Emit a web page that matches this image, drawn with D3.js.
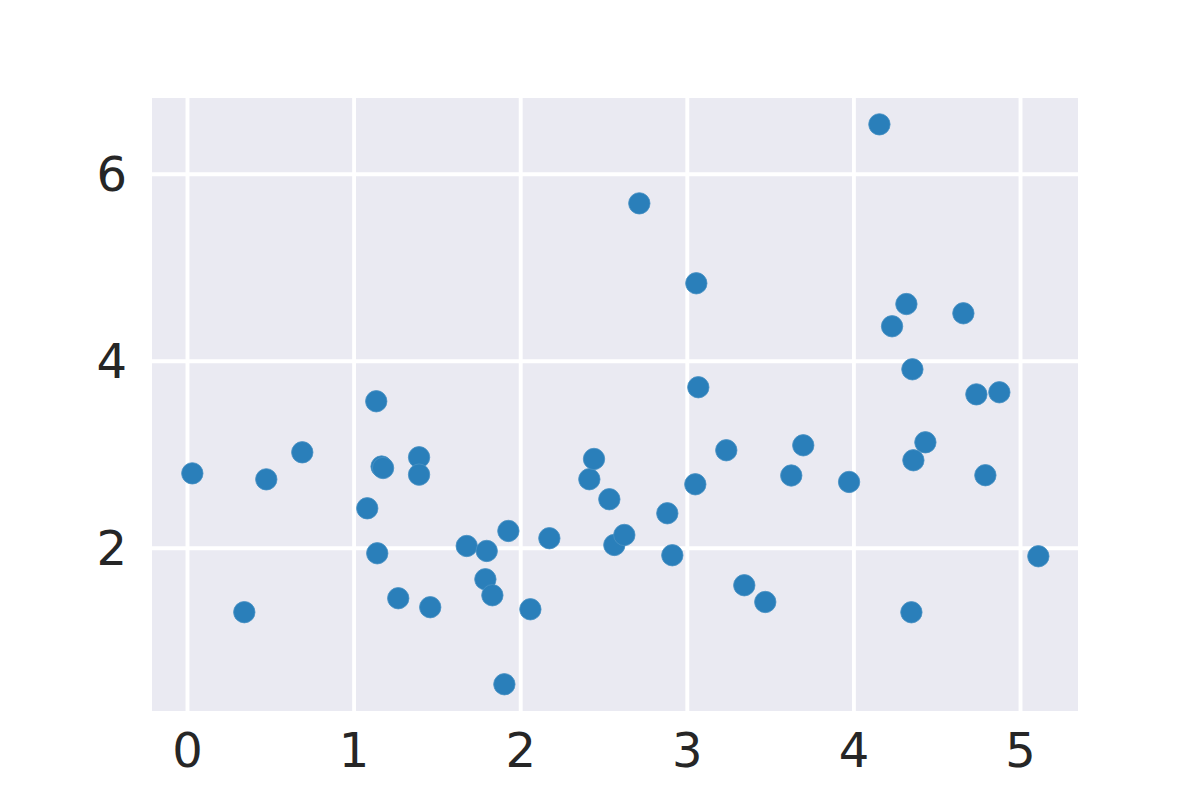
<!DOCTYPE html>
<html>
<head>
<meta charset="utf-8">
<script src="https://cdn.jsdelivr.net/npm/d3@7"></script>
<style>
  html, body { margin: 0; padding: 0; background: #ffffff; }
  svg { display: block; }
</style>
</head>
<body>
<svg id="chart" width="1200" height="800"></svg>
<script>
const xValues = [0.032, 0.344, 0.476, 0.692, 1.082, 1.136, 1.168, 1.177, 1.142, 1.268, 1.393, 1.393, 1.460,
  1.679, 1.799, 1.791, 1.833, 1.929, 1.905, 2.061, 2.175, 2.415, 2.443, 2.535, 2.565, 2.625, 2.715,
  2.883, 2.913, 3.051, 3.057, 3.069, 3.237, 3.345, 3.471, 3.627, 3.699, 3.974, 4.156, 4.232, 4.318,
  4.354, 4.360, 4.348, 4.432, 4.660, 4.738, 4.792, 4.876, 5.110];
const yValues = [2.795, 1.310, 2.731, 3.020, 2.421, 3.566, 2.868, 2.852, 1.940, 1.459, 2.967, 2.781, 1.363,
  2.018, 1.965, 1.662, 1.491, 2.179, 0.539, 1.341, 2.101, 2.732, 2.949, 2.518, 2.029, 2.136, 5.683,
  2.368, 1.919, 2.678, 4.828, 3.716, 3.042, 1.598, 1.419, 2.772, 3.095, 2.703, 6.528, 4.368, 4.606,
  3.908, 2.935, 1.309, 3.127, 4.507, 3.640, 2.775, 3.662, 1.908];
const xTicks = [0, 1, 2, 3, 4, 5];
const yTicks = [2, 4, 6];

const svg = d3.select("#chart");
const plotLeft = 152, plotRight = 1078, plotTop = 98, plotBottom = 711;

const x = d3.scaleLinear().domain([-0.21, 5.348]).range([plotLeft, plotRight]);
const y = d3.scaleLinear().domain([0.253, 6.81]).range([plotBottom, plotTop]);

svg.append("rect")
  .attr("x", plotLeft).attr("y", plotTop)
  .attr("width", plotRight - plotLeft).attr("height", plotBottom - plotTop)
  .attr("fill", "#eaeaf2");

const fontFamily = "DejaVu Sans, sans-serif";

const gx = svg.append("g")
  .attr("transform", `translate(0,${plotBottom})`)
  .call(d3.axisBottom(x).tickValues(xTicks).tickSize(-(plotBottom - plotTop)).tickPadding(22).tickFormat(d3.format("d")));
const gy = svg.append("g")
  .attr("transform", `translate(${plotLeft},0)`)
  .call(d3.axisLeft(y).tickValues(yTicks).tickSize(-(plotRight - plotLeft)).tickPadding(25).tickFormat(d3.format("d")));

[gx, gy].forEach(g => {
  g.select(".domain").remove();
  g.selectAll(".tick line").attr("stroke", "#ffffff").attr("stroke-width", 3.9);
  g.selectAll(".tick text")
    .attr("fill", "#262626")
    .style("font-family", fontFamily)
    .style("font-size", "48px");
});
gx.selectAll(".tick text").attr("dy", "0.71em");
gy.selectAll(".tick text").attr("dy", "0.34em");

const pts = xValues.map((v, i) => ({ x: v, y: yValues[i] }));
svg.append("g")
  .selectAll("circle")
  .data(pts)
  .join("circle")
  .attr("cx", d => x(d.x))
  .attr("cy", d => y(d.y))
  .attr("r", 10.7)
  .attr("fill", "#2a7fba")
  .attr("stroke", "#4a92c4")
  .attr("stroke-width", 0.8);
</script>
</body>
</html>
